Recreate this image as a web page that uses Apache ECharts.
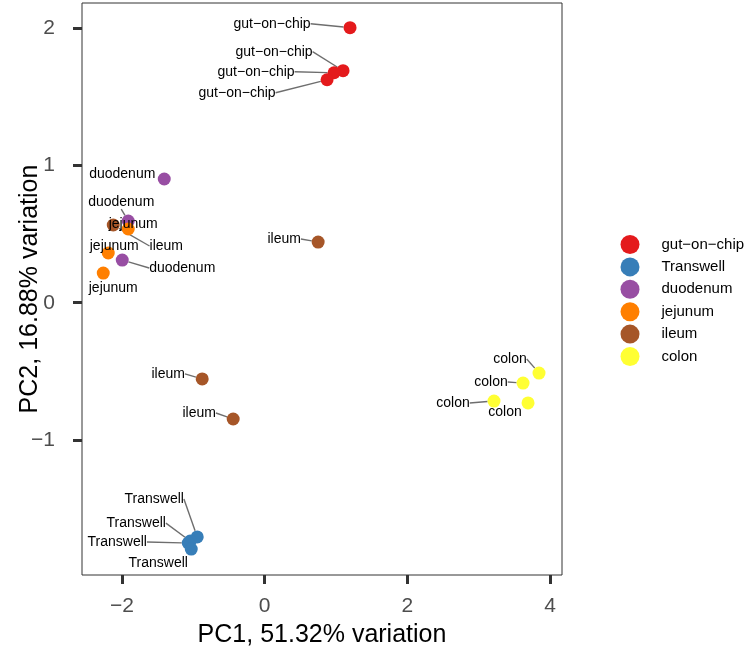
<!DOCTYPE html>
<html>
<head>
<meta charset="utf-8">
<script src="https://cdn.jsdelivr.net/npm/echarts@6/dist/echarts.min.js"></script>
<style>
html,body{margin:0;padding:0;background:#fff;}
#chart{width:749px;height:650px;}
</style>
</head>
<body>
<div id="chart"></div>
<script>
// ---- data ----
const groups = ['gut\u2212on\u2212chip', 'Transwell', 'duodenum', 'jejunum', 'ileum', 'colon'];
const gutX = [1.197, 1.099, 0.973, 0.875];
const gutY = [2.003, 1.690, 1.675, 1.624];
const transX = [-0.945, -1.043, -1.071, -1.029];
const transY = [-1.706, -1.736, -1.750, -1.794];
const duoX = [-1.407, -1.912, -1.996];
const duoY = [0.901, 0.595, 0.311];
const jejX = [-1.912, -2.192, -2.262];
const jejY = [0.537, 0.362, 0.216];
const ileX = [-2.122, 0.750, -0.875, -0.441];
const ileY = [0.566, 0.442, -0.555, -0.847];
const colX = [3.846, 3.622, 3.215, 3.692];
const colY = [-0.512, -0.585, -0.716, -0.730];
const xTicks = [-2, 0, 2, 4];
const yTicks = [-1, 0, 1, 2];
const xTitle = 'PC1, 51.32% variation';
const yTitle = 'PC2, 16.88% variation';

// ---- label placement (repel offsets in px: dx, dy, draw segment) ----
const labelOffsets = [
  [[-78, -4, 1], [-69, -19, 1], [-78, -1, 1], [-90, 13, 1]],
  [[-43, -38, 1], [-54, -18, 1], [-71, -1, 1], [-33, 14, 0]],
  [[-42, -5, 0], [-7, -19, 1], [60, 8, 1]],
  [[5, -5, 0], [6, -7, 0], [10, 15, 0]],
  [[53, 21, 1], [-34, -3, 1], [-34, -5, 1], [-34, -6, 1]],
  [[-29, -14, 1], [-32, -1, 1], [-41, 2, 1], [-23, 9, 0]]
];
const colors = ['#E41A1C', '#377EB8', '#984EA3', '#FF7F00', '#A65628', '#FFFF33'];

const xs = [gutX, transX, duoX, jejX, ileX, colX];
const ys = [gutY, transY, duoY, jejY, ileY, colY];
const FONT = '"Liberation Sans", Arial, Helvetica, sans-serif';
const fmt = v => (v < 0 ? '\u2212' + Math.abs(v) : String(v));

const series = groups.map((g, si) => ({
  name: g,
  type: 'scatter',
  symbol: 'circle',
  symbolSize: 13,
  itemStyle: { color: colors[si], opacity: 1 },
  data: xs[si].map((x, i) => ({
    value: [x, ys[si][i]],
    name: g,
    labelLine: { show: !!labelOffsets[si][i][2] }
  })),
  label: {
    show: true,
    position: 'inside',
    formatter: p => p.name,
    color: '#000',
    fontSize: 14,
    fontFamily: FONT
  },
  labelLine: { show: true, lineStyle: { color: '#6e6e6e', width: 1.4 } },
  labelLayout: p => ({ dx: labelOffsets[si][p.dataIndex][0], dy: labelOffsets[si][p.dataIndex][1] }),
  emphasis: { disabled: true }
}));

const chart = echarts.init(document.getElementById('chart'), null, { renderer: 'canvas' });
chart.setOption({
  animation: false,
  textStyle: { fontFamily: FONT },
  grid: { left: 82, right: 187, top: 3, bottom: 75, show: true, borderColor: '#333', borderWidth: 1, backgroundColor: '#fff', containLabel: false, outerBoundsMode: 'none' },
  legend: {
    data: groups,
    orient: 'vertical',
    left: 620.5,
    top: 235,
    padding: 0,
    icon: 'circle',
    itemWidth: 19,
    itemHeight: 19,
    itemGap: 3.4,
    textStyle: { color: '#000', fontSize: 15, fontFamily: FONT, padding: [0, 0, 0, 17] },
    selectedMode: false
  },
  xAxis: {
    type: 'value',
    min: -2.56,
    max: 4.168,
    splitLine: { show: false },
    axisLine: { show: false, onZero: false },
    axisTick: { show: true, customValues: xTicks, length: 9, lineStyle: { color: '#333', width: 3 } },
    axisLabel: { customValues: xTicks, formatter: fmt, color: '#4D4D4D', fontSize: 21, margin: 21, fontFamily: FONT },
    name: xTitle,
    nameLocation: 'middle',
    nameGap: 48,
    nameMoveOverlap: false,
    nameTextStyle: { color: '#000', fontSize: 25, fontFamily: FONT }
  },
  yAxis: {
    type: 'value',
    min: -1.983,
    max: 2.183,
    splitLine: { show: false },
    axisLine: { show: false, onZero: false },
    axisTick: { show: true, customValues: yTicks, length: 9, lineStyle: { color: '#333', width: 3 } },
    axisLabel: { customValues: yTicks, formatter: fmt, color: '#4D4D4D', fontSize: 21, margin: 27, fontFamily: FONT },
    name: yTitle,
    nameLocation: 'middle',
    nameGap: 39,
    nameRotate: 90,
    nameMoveOverlap: false,
    nameTextStyle: { color: '#000', fontSize: 25, fontFamily: FONT }
  },
  series: series
});
</script>
</body>
</html>
